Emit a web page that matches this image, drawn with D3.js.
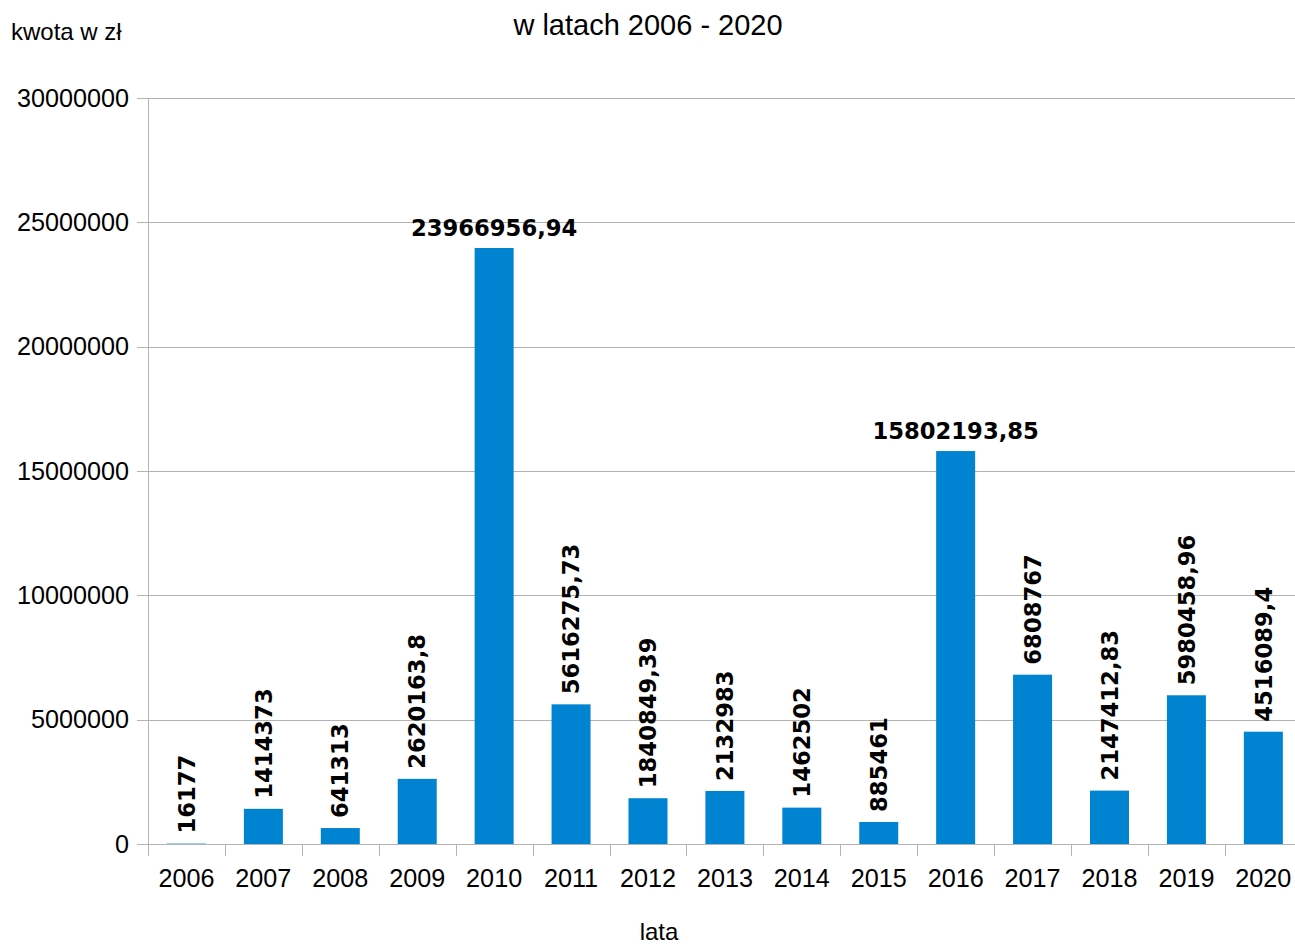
<!DOCTYPE html>
<html>
<head>
<meta charset="utf-8">
<script src="https://cdn.jsdelivr.net/npm/d3@7"></script>
<style>
  html, body { margin: 0; padding: 0; background: #fff; }
  svg { display: block; }
</style>
</head>
<body>
<svg id="chart" width="1295" height="945"></svg>
<script>
const years = ["2006","2007","2008","2009","2010","2011","2012","2013","2014","2015","2016","2017","2018","2019","2020"];
const amounts = [16177, 1414373, 641313, 2620163.8, 23966956.94, 5616275.73, 1840849.39, 2132983, 1462502, 885461, 15802193.85, 6808767, 2147412.83, 5980458.96, 4516089.4];
const yTicks = [0, 5000000, 10000000, 15000000, 20000000, 25000000, 30000000];
const title = "w latach 2006 - 2020";
const yTitle = "kwota w zł";
const xTitle = "lata";

(function () {
const svg = d3.select("#chart");
const pL = 148, pR = 1301.8, pT = 98, pB = 844;

const x = d3.scaleBand().domain(years).range([pL, pR]).padding(0);
const y = d3.scaleLinear().domain([0, 30000000]).range([pB, pT]);

const grid = "#b3b3b3";
const sans = "'Liberation Sans', Arial, sans-serif";

svg.append("g").selectAll("line").data(yTicks).join("line")
  .attr("x1", pL - 11).attr("x2", pR)
  .attr("y1", d => Math.round(y(d)) + 0.5).attr("y2", d => Math.round(y(d)) + 0.5)
  .attr("stroke", grid).attr("stroke-width", 1);

svg.append("line").attr("x1", pL + 0.5).attr("x2", pL + 0.5)
  .attr("y1", pT).attr("y2", pB + 12).attr("stroke", grid);

const bounds = years.map(d => x(d)).concat([pR]);
svg.append("g").selectAll("line").data(bounds.slice(1)).join("line")
  .attr("x1", d => Math.round(d) + 0.5).attr("x2", d => Math.round(d) + 0.5)
  .attr("y1", pB).attr("y2", pB + 12)
  .attr("stroke", grid);

svg.append("g").selectAll("text").data(yTicks).join("text")
  .attr("x", pL - 19).attr("y", d => y(d))
  .attr("dy", "0.35em")
  .attr("text-anchor", "end")
  .attr("font-family", sans).attr("font-size", 25.2)
  .attr("fill", "#000")
  .text(d => d3.format("d")(d));

svg.append("g").selectAll("text").data(years).join("text")
  .attr("x", d => x(d) + x.bandwidth() / 2).attr("y", 887)
  .attr("text-anchor", "middle")
  .attr("font-family", sans).attr("font-size", 25.2)
  .attr("fill", "#000")
  .text(d => d);

const bw = x.bandwidth() * 0.507;
const data = years.map((yr, i) => ({ yr, v: amounts[i] }));
svg.append("g").selectAll("rect").data(data).join("rect")
  .attr("x", d => x(d.yr) + (x.bandwidth() - bw) / 2)
  .attr("width", bw)
  .attr("y", d => y(d.v))
  .attr("height", d => pB - y(d.v))
  .attr("fill", "#0084d1");

const labFont = "'DejaVu Sans', sans-serif";
const fmt = v => String(v).replace(".", ",");
const lab = svg.append("g");
data.forEach(d => {
  const cx = x(d.yr) + x.bandwidth() / 2;
  const ty = y(d.v);
  const horizontal = d.v > 15000000;
  const t = lab.append("text")
    .attr("font-family", labFont).attr("font-weight", "bold")
    .attr("font-size", 22.7).attr("fill", "#000")
    .text(fmt(d.v));
  if (horizontal) {
    t.attr("x", cx).attr("y", ty - 12).attr("text-anchor", "middle");
  } else {
    t.attr("transform", `translate(${cx},${ty - 10}) rotate(-90)`)
      .attr("text-anchor", "start").attr("dy", "0.36em");
  }
});

svg.append("text").attr("x", 648).attr("y", 35)
  .attr("text-anchor", "middle").attr("font-family", sans).attr("font-size", 29)
  .attr("fill", "#000").text(title);
svg.append("text").attr("x", 11).attr("y", 40)
  .attr("font-family", sans).attr("font-size", 24).attr("fill", "#000").text(yTitle);
svg.append("text").attr("x", 659).attr("y", 940)
  .attr("text-anchor", "middle").attr("font-family", sans).attr("font-size", 24)
  .attr("fill", "#000").text(xTitle);
})();
</script>
</body>
</html>
